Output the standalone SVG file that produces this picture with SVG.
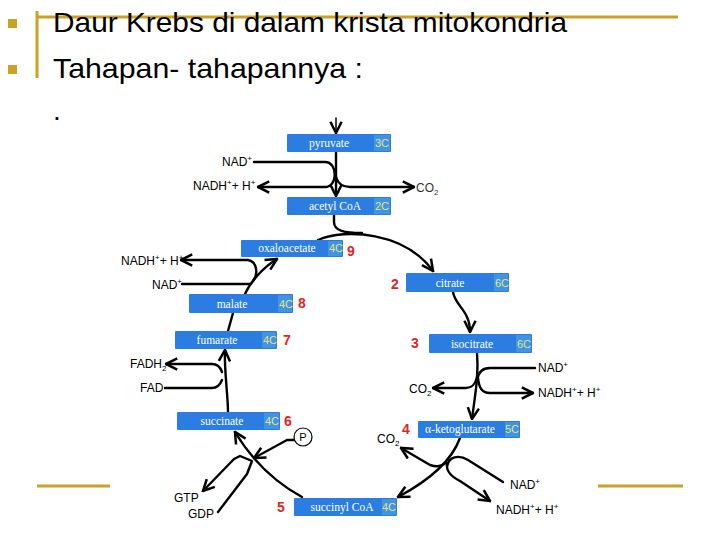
<svg xmlns="http://www.w3.org/2000/svg" width="720" height="540" viewBox="0 0 720 540">
<style>
.t{font-family:"Liberation Sans",Arial,sans-serif;fill:#000}
.h{font-size:28px}
.l{font-size:12px}
.box{fill:#2b7de2}
.cc{fill:#3f95e4}
.bt{font-family:"Liberation Serif","Times New Roman",serif;font-size:11.5px;fill:#fff;text-anchor:middle}
.ct{font-family:"Liberation Sans",Arial,sans-serif;font-size:11px;fill:#e6e37a;text-anchor:middle}
.n{font-family:"Liberation Sans",Arial,sans-serif;font-size:14px;font-weight:bold;fill:#e0261f}
.c path{fill:none;stroke:#000;stroke-width:2.4;stroke-linecap:round;stroke-linejoin:round}
.gold{stroke:#c9a227;stroke-width:3}
</style>
<defs>
<marker id="a" viewBox="0 0 10 10" refX="9" refY="5" markerWidth="14" markerHeight="14" markerUnits="userSpaceOnUse" orient="auto">
<path d="M1,1 L9,5 L1,9" fill="none" stroke="#000" stroke-width="1.8"/>
</marker>
</defs>
<rect width="720" height="540" fill="#fff"/>
<g id="header">
<line class="gold" x1="37" y1="17" x2="678" y2="17"/>
<line class="gold" x1="37" y1="11" x2="37" y2="78"/>
<line class="gold" x1="37" y1="486" x2="110" y2="486"/>
<line class="gold" x1="598" y1="486" x2="683" y2="486"/>
<rect x="8" y="19" width="9" height="9" fill="#c9a227"/>
<rect x="8" y="65" width="9" height="9" fill="#c9a227"/>
<text class="t h" x="53" y="32" textLength="514" lengthAdjust="spacingAndGlyphs">Daur Krebs di dalam krista mitokondria</text>
<text class="t h" x="53" y="78" textLength="310" lengthAdjust="spacingAndGlyphs">Tahapan- tahapannya :</text>
<text class="t h" x="53" y="120">.</text>
</g>
<g id="connectors" class="c">
<path d="M336,118 L336,133" marker-end="url(#a)" style="stroke-width:1.5"/>
<path d="M336,151 L336,196" marker-end="url(#a)"/>
<path d="M254,162 L325,162 C338,162 338,187 325,187 L258,187" marker-end="url(#a)"/>
<path d="M336,177 C338,184 342,187 350,187 L414,187" marker-end="url(#a)"/>
<path d="M334,214 L334,222 C334,231 345,233 362,233"/>
<path d="M318,240 C345,228 405,232 433,271" marker-end="url(#a)"/>
<path d="M453,292 C455,306 470,310 470,332" marker-end="url(#a)"/>
<path d="M477,353 C479,375 475,395 472,419" marker-end="url(#a)"/>
<path d="M535,368 L490,368 C481,368 478,374 477,380"/>
<path d="M478,378 C479,388 482,393 490,393 L533,393" marker-end="url(#a)"/>
<path d="M477,377 C475,385 472,388 466,388 L433,388" marker-end="url(#a)"/>
<path d="M460,438 C452,460 430,480 398,497" marker-end="url(#a)"/>
<path d="M446,463 C440,467 436,467 430,465 L401,448" marker-end="url(#a)"/>
<path d="M503,482 L468,460 C458,454 449,457 447,466"/>
<path d="M447,464 C446,472 452,477 460,481 L490,501" marker-end="url(#a)"/>
<path d="M302,497 C280,485 255,465 235,432" marker-end="url(#a)"/>
<path d="M294,440 L287,440 L254,458" marker-end="url(#a)"/>
<path d="M218,512 L247,474 L252,461 L240,456 L234,459 L203,491" marker-end="url(#a)"/>
<path d="M228,412 C228,395 224,370 225,350" marker-end="url(#a)"/>
<path d="M222,372 C220,366 216,364 212,364 L166,364" marker-end="url(#a)"/>
<path d="M165,388 L212,388 C217,388 220,385 222,380"/>
<path d="M228,331 L233,313"/>
<path d="M245,294 C250,283 262,268 277,259" marker-end="url(#a)"/>
<path d="M182,284 L250,284"/>
<path d="M253,281 C258,275 258,262 248,260 L181,260" marker-end="url(#a)"/>
</g>
<g id="p-circle">
<circle cx="303" cy="437" r="9" fill="#fff" stroke="#000" stroke-width="1.2"/>
<text class="t" x="303" y="441" font-size="11" text-anchor="middle">P</text>
</g>
<g id="labels" class="t l">
<text x="222" y="166">NAD<tspan font-size="8" dy="-5">+</tspan></text>
<text x="193" y="190">NADH<tspan font-size="8" dy="-5">+</tspan><tspan dy="5">+ H</tspan><tspan font-size="8" dy="-5">+</tspan></text>
<text x="416" y="192" fill="#333">CO<tspan font-size="8" dy="3">2</tspan></text>
<text x="121" y="265">NADH<tspan font-size="8" dy="-5">+</tspan><tspan dy="5">+ H</tspan><tspan font-size="8" dy="-5">+</tspan></text>
<text x="152" y="289">NAD<tspan font-size="8" dy="-5">+</tspan></text>
<text x="130" y="368">FADH<tspan font-size="8" dy="3">2</tspan></text>
<text x="140" y="392">FAD</text>
<text x="174" y="502">GTP</text>
<text x="188" y="518">GDP</text>
<text x="538" y="372">NAD<tspan font-size="8" dy="-5">+</tspan></text>
<text x="538" y="397">NADH<tspan font-size="8" dy="-5">+</tspan><tspan dy="5">+ H</tspan><tspan font-size="8" dy="-5">+</tspan></text>
<text x="409" y="393">CO<tspan font-size="8" dy="3">2</tspan></text>
<text x="377" y="443">CO<tspan font-size="8" dy="3">2</tspan></text>
<text x="510" y="489">NAD<tspan font-size="8" dy="-5">+</tspan></text>
<text x="496" y="514">NADH<tspan font-size="8" dy="-5">+</tspan><tspan dy="5">+ H</tspan><tspan font-size="8" dy="-5">+</tspan></text>
</g>
<g id="pyruvate"><rect class="box" x="287" y="134" width="104" height="18" rx="1"/><rect class="cc" x="374" y="135" width="16" height="16"/><text class="bt" x="329" y="147">pyruvate</text><text class="ct" x="382" y="147">3C</text></g>
<g id="acetylcoa"><rect class="box" x="287" y="197" width="104" height="18" rx="1"/><rect class="cc" x="374" y="198" width="16" height="16"/><text class="bt" x="335" y="210">acetyl CoA</text><text class="ct" x="382" y="210">2C</text></g>
<g id="oxaloacetate"><rect class="box" x="241" y="240" width="102" height="17" rx="1"/><rect class="cc" x="328" y="241" width="14" height="15"/><text class="bt" x="287" y="252">oxaloacetate</text><text class="ct" x="336" y="252">4C</text><text class="n" x="347" y="256">9</text></g>
<g id="citrate"><rect class="box" x="406" y="273" width="103" height="19" rx="1"/><rect class="cc" x="494" y="274" width="14" height="17"/><text class="bt" x="450" y="287">citrate</text><text class="ct" x="502" y="287">6C</text><text class="n" x="391" y="289">2</text></g>
<g id="malate"><rect class="box" x="189" y="294" width="104" height="19" rx="1"/><rect class="cc" x="278" y="295" width="14" height="17"/><text class="bt" x="232" y="308">malate</text><text class="ct" x="286" y="308">4C</text><text class="n" x="298" y="308">8</text></g>
<g id="isocitrate"><rect class="box" x="429" y="334" width="103" height="19" rx="1"/><rect class="cc" x="516" y="335" width="15" height="17"/><text class="bt" x="472" y="348">isocitrate</text><text class="ct" x="524" y="348">6C</text><text class="n" x="411" y="348">3</text></g>
<g id="fumarate"><rect class="box" x="175" y="331" width="102" height="18" rx="1"/><rect class="cc" x="262" y="332" width="14" height="16"/><text class="bt" x="217" y="344">fumarate</text><text class="ct" x="270" y="344">4C</text><text class="n" x="283" y="345">7</text></g>
<g id="succinate"><rect class="box" x="177" y="412" width="103" height="18" rx="1"/><rect class="cc" x="264" y="413" width="15" height="16"/><text class="bt" x="222" y="425">succinate</text><text class="ct" x="272" y="425">4C</text><text class="n" x="284" y="426">6</text></g>
<g id="ketoglutarate"><rect class="box" x="418" y="421" width="102" height="17" rx="1"/><rect class="cc" x="505" y="422" width="14" height="15"/><text class="bt" x="460" y="433">α-ketoglutarate</text><text class="ct" x="512" y="433">5C</text><text class="n" x="402" y="434">4</text></g>
<g id="succinylcoa"><rect class="box" x="294" y="498" width="103" height="18" rx="1"/><rect class="cc" x="382" y="499" width="14" height="16"/><text class="bt" x="342" y="511">succinyl CoA</text><text class="ct" x="389" y="511">4C</text><text class="n" x="277" y="512">5</text></g>
</svg>
